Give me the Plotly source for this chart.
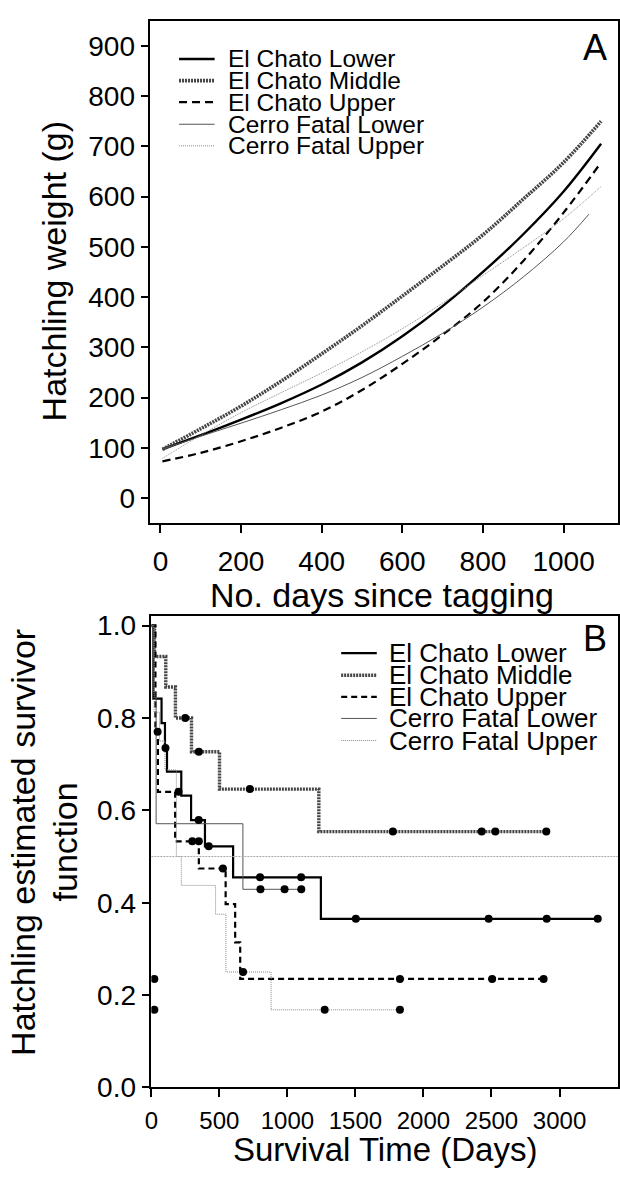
import plotly.graph_objects as go

W, H = 620, 1178
FONT = "Liberation Sans, Arial, Helvetica, sans-serif"

# ---------------- Panel A data (hatchling weight growth curves) ----------------
days_a = [5, 100, 200, 300, 400, 500, 600, 700, 800, 900, 1000, 1093]
days_a_cfl = [5, 100, 200, 300, 400, 500, 600, 700, 800, 900, 1000, 1063]
ec_lower_w = [97, 125, 156, 189, 226, 270, 322, 382, 450, 525, 610, 705]
ec_middle_w = [97, 138, 183, 233, 287, 343, 402, 462, 524, 595, 668, 750]
ec_upper_w = [73, 90, 113, 140, 172, 215, 267, 325, 390, 472, 568, 668]
cf_lower_w = [97, 123, 149, 176, 205, 240, 282, 328, 380, 440, 510, 565]
cf_upper_w = [79, 125, 170, 210, 249, 291, 337, 388, 443, 498, 556, 620]

# ---------------- Panel B data (Kaplan-Meier survivor functions) ----------------
ecl_t = [0, 15, 75, 100, 115, 220, 292, 394, 601, 1246, 3281]
ecl_s = [1.0, 0.842, 0.789, 0.735, 0.684, 0.632, 0.579, 0.522, 0.455, 0.365, 0.365]
ecl_ct = [104, 348, 422, 799, 1101, 1503, 2479, 2906, 3281]
ecl_cs = [0.735, 0.579, 0.522, 0.455, 0.455, 0.365, 0.365, 0.365, 0.365]

ecm_t = [0, 23, 106, 177, 295, 501, 1231, 2903]
ecm_s = [1.0, 0.933, 0.867, 0.800, 0.727, 0.646, 0.554, 0.554]
ecm_ct = [249, 349, 724, 1775, 2428, 2528, 2903]
ecm_cs = [0.800, 0.727, 0.646, 0.554, 0.554, 0.554, 0.554]

ecu_t = [0, 30, 48, 175, 349, 546, 616, 653, 2883]
ecu_s = [1.0, 0.77, 0.64, 0.533, 0.474, 0.397, 0.314, 0.235, 0.235]
ecu_ct = [22, 46, 200, 301, 349, 526, 1827, 2505, 2883]
ecu_cs = [0.235, 0.77, 0.64, 0.533, 0.533, 0.474, 0.235, 0.235, 0.235]

cfl_t = [0, 12, 35, 673, 1102]
cfl_s = [1.0, 0.857, 0.571, 0.429, 0.429]
cfl_ct = [802, 979, 1102]
cfl_cs = [0.429, 0.429, 0.429]

cfu_t = [0, 20, 60, 100, 184, 220, 472, 548, 880, 1827]
cfu_s = [1.0, 0.8125, 0.75, 0.6875, 0.5, 0.4375, 0.375, 0.25, 0.168, 0.168]
cfu_ct = [22, 674, 1274, 1827]
cfu_cs = [0.168, 0.25, 0.168, 0.168]

names = ["El Chato Lower", "El Chato Middle", "El Chato Upper",
         "Cerro Fatal Lower", "Cerro Fatal Upper"]

# styles
sty_a = [dict(color="black", width=2.4),
         dict(color="#444444", width=3.6, dash="2px,1px"),
         dict(color="black", width=2.2, dash="8px,5px"),
         dict(color="#555555", width=1.0),
         dict(color="#888888", width=1.0, dash="1px,1px")]
sty_b = [dict(color="black", width=2.2),
         dict(color="#444444", width=3.4, dash="2px,1px"),
         dict(color="black", width=2.2, dash="6px,4px"),
         dict(color="#555555", width=1.0),
         dict(color="#888888", width=1.0, dash="1px,1px")]

fig = go.Figure()

# Panel A traces
a_x = [days_a, days_a, days_a, days_a_cfl, days_a]
a_y = [ec_lower_w, ec_middle_w, ec_upper_w, cf_lower_w, cf_upper_w]
for xs, ys, st, nm in zip(a_x, a_y, sty_a, names):
    fig.add_trace(go.Scatter(x=xs, y=ys, mode="lines", name=nm,
                             line=dict(shape="spline", smoothing=1.0, **st),
                             xaxis="x", yaxis="y", showlegend=False))

# Panel B traces
b_t = [ecl_t, ecm_t, ecu_t, cfl_t, cfu_t]
b_s = [ecl_s, ecm_s, ecu_s, cfl_s, cfu_s]
b_ct = [ecl_ct, ecm_ct, ecu_ct, cfl_ct, cfu_ct]
b_cs = [ecl_cs, ecm_cs, ecu_cs, cfl_cs, cfu_cs]
for xs, ys, st, nm in zip(b_t, b_s, sty_b, names):
    fig.add_trace(go.Scatter(x=xs, y=ys, mode="lines", name=nm,
                             line=dict(shape="hv", **st),
                             xaxis="x2", yaxis="y2", showlegend=False))
for xs, ys, nm in zip(b_ct, b_cs, names):
    fig.add_trace(go.Scatter(x=xs, y=ys, mode="markers", name=nm + " censored",
                             marker=dict(color="black", size=8),
                             xaxis="x2", yaxis="y2", showlegend=False))


def px(x):
    return x / W


def py(y):
    return 1 - y / H


axis_common = dict(showline=True, linecolor="black", linewidth=1.5, mirror=True,
                   ticks="outside", ticklen=8, tickwidth=1.5, tickcolor="black",
                   showgrid=False, zeroline=False)
tick28 = dict(family=FONT, size=28, color="black")
tick24 = dict(family=FONT, size=24, color="black")

fig.update_layout(
    width=W, height=H,
    margin=dict(l=0, r=0, t=0, b=0),
    paper_bgcolor="white", plot_bgcolor="white",
    font=dict(family=FONT, color="black"),
    xaxis=dict(domain=[px(145), px(618)], anchor="y", range=[-25, 1135],
               tickvals=[0, 200, 400, 600, 800, 1000], ticklabelstandoff=4,
               tickfont=tick28, **axis_common),
    yaxis=dict(domain=[py(527), py(15)], anchor="x", range=[-50, 950],
               tickvals=list(range(0, 1000, 100)), tickfont=tick28, **axis_common),
    xaxis2=dict(domain=[px(146), px(618)], anchor="y2", range=[0, 3430],
                tickvals=[0, 500, 1000, 1500, 2000, 2500, 3000], ticklabelstandoff=3,
                tickfont=tick24, **axis_common),
    yaxis2=dict(domain=[py(1102), py(622)], anchor="x2", range=[0, 1.02],
                tickvals=[0, 0.2, 0.4, 0.6, 0.8, 1.0], tickformat=".1f",
                tickfont=tick28, **axis_common),
)

# reference line at S = 0.5
fig.add_shape(type="line", xref="x2 domain", yref="y2", x0=0, x1=1, y0=0.5, y1=0.5,
              line=dict(color="#aaaaaa", width=1, dash="2px,1px"))

ann = []
# axis titles
ann.append(dict(text="No. days since tagging", x=px(379), y=py(600), font=dict(size=34)))
ann.append(dict(text="Hatchling weight (g)", x=px(47), y=py(270), textangle=-90, font=dict(size=34)))
ann.append(dict(text="Survival Time (Days)", x=px(382), y=py(1165), font=dict(size=33)))
ann.append(dict(text="Hatchling estimated survivor", x=px(16), y=py(852), textangle=-90, font=dict(size=34)))
ann.append(dict(text="function", x=px(59), y=py(852), textangle=-90, font=dict(size=34)))
# panel letters
ann.append(dict(text="A", x=px(595), y=py(42), font=dict(size=36)))
ann.append(dict(text="B", x=px(595), y=py(645), font=dict(size=36)))

# manual legends
leg_a_rows = [54, 76, 98, 120.5, 142.5]
leg_b_rows = [659.5, 682, 704, 726, 748.5]
for i, nm in enumerate(names):
    ya = leg_a_rows[i]
    ann.append(dict(text=nm, x=px(222), y=py(ya), xanchor="left", font=dict(size=24.5)))
    fig.add_shape(type="line", xref="paper", yref="paper", x0=px(174), x1=px(210),
                  y0=py(ya), y1=py(ya), line=sty_a[i])
    yb = leg_b_rows[i]
    ann.append(dict(text=nm, x=px(384), y=py(yb), xanchor="left", font=dict(size=26)))
    fig.add_shape(type="line", xref="paper", yref="paper", x0=px(338), x1=px(374),
                  y0=py(yb), y1=py(yb), line=sty_b[i])

for a in ann:
    a.setdefault("xanchor", "center")
    a["yanchor"] = "middle"
    a["xref"] = "paper"
    a["yref"] = "paper"
    a["showarrow"] = False
    a["font"] = dict(family=FONT, color="black", size=a["font"]["size"])
fig.update_layout(annotations=ann)

fig.write_html("out.html")
